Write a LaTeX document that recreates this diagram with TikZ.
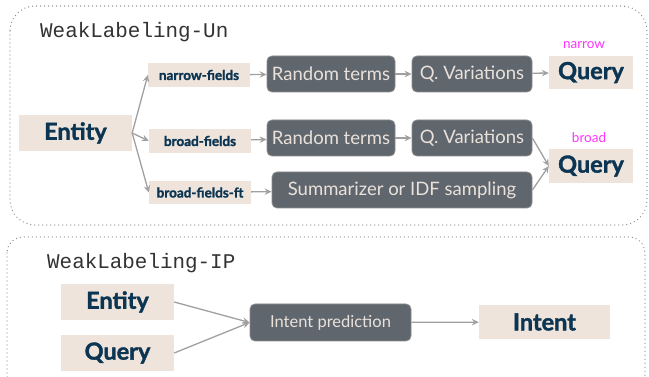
\documentclass[tikz,border=0pt]{standalone}
\usepackage{fontspec}
\setmainfont{Lato}
\newfontfamily\monofnt{Liberation Mono}
\newfontfamily\heavyfnt[FakeBold=1.6]{Lato}
\usetikzlibrary{arrows.meta}
\definecolor{beigeC}{HTML}{EEE4DB}
\definecolor{navyC}{HTML}{0B3552}
\definecolor{procC}{HTML}{60666E}
\definecolor{procB}{HTML}{8C8C8C}
\definecolor{procT}{HTML}{EAE2DA}
\definecolor{arrC}{HTML}{A0A0A0}
\definecolor{dotC}{HTML}{888888}
\definecolor{magC}{HTML}{FF33FF}
\tikzset{
  big/.style={fill=beigeC, text=navyC, inner sep=0pt, font=\heavyfnt\bfseries\fontsize{23.5}{28}\selectfont},
  fld/.style={fill=beigeC, text=navyC, inner sep=0pt, font=\heavyfnt\bfseries\fontsize{13.5}{16}\selectfont},
  proc/.style={fill=procC, draw=procB, line width=0.8pt, rounded corners=5pt, text=procT, inner sep=0pt, minimum height=36pt, font=\fontsize{18.5}{22}\selectfont},
  conn/.style={draw=arrC, line width=1.3pt, -{Stealth[length=7pt,width=6.5pt,inset=2.5pt]}},
  frame/.style={draw=dotC, line width=1.3pt, dash pattern=on 0pt off 4pt, line cap=round},
  ttl/.style={anchor=west, inner sep=0pt, text=black!80, font=\monofnt\fontsize{20.9}{24}\selectfont},
  mag/.style={text=magC, inner sep=0pt, font=\fontsize{13.5}{16}\selectfont}
}
\begin{document}
\begin{tikzpicture}[x=1pt,y=-1pt]
\useasboundingbox (0,0) rectangle (649,377);
\draw[frame, rounded corners=25pt] (10,6) rectangle (647,225);
\draw[frame, rounded corners=16pt] (7,237) rectangle (645,390);
\node[ttl] (t1) at (40,32) {WeakLabeling-Un};
\node[ttl] (t2) at (47,263) {WeakLabeling-IP};
% top part
\node[big, minimum width=113pt, minimum height=36pt] (entA) at (75.5,133) {Entity};
\node[fld, minimum width=102pt, minimum height=24pt] (nf) at (199,75) {narrow-fields};
\node[fld, minimum width=102pt, minimum height=24pt] (bf) at (200,141) {broad-fields};
\node[fld, minimum width=102pt, minimum height=23pt] (bft) at (200,192.5) {broad-fields-ft};
\node[proc, minimum width=128pt] (rt1) at (331,74) {Random terms};
\node[proc, minimum width=128pt] (rt2) at (331,138) {Random terms};
\node[proc, minimum width=260pt] (summ) at (402,190) {Summarizer or IDF sampling};
\node[proc, minimum width=120pt] (qv1) at (472,74) {Q. Variations};
\node[proc, minimum width=120pt] (qv2) at (472,138) {Q. Variations};
\node[big, minimum width=84pt, minimum height=33pt] (qn) at (591,72.5) {Query};
\node[big, minimum width=84pt, minimum height=34pt] (qb) at (591,166) {Query};
\node[mag] (ln) at (584,45) {narrow};
\node[mag] (lb) at (589,138) {broad};
\draw[conn] (entA.east) -- (nf.west);
\draw[conn] (entA.east) -- (bf.west);
\draw[conn] (entA.east) -- (bft.west);
\draw[conn] (nf) -- (rt1);
\draw[conn] (bf) -- (rt2);
\draw[conn] (bft) -- (summ);
\draw[conn] (rt1) -- (qv1);
\draw[conn] (rt2) -- (qv2);
\draw[conn] (qv1) -- (qn);
\draw[conn] (qv2.east) -- (qb.west);
\draw[conn] (summ.east) -- (qb.west);
% bottom part
\node[big, minimum width=113pt, minimum height=36pt] (entB) at (117.5,302) {Entity};
\node[big, minimum width=113pt, minimum height=36pt] (qB) at (117.5,353) {Query};
\node[proc, minimum width=161pt, minimum height=37pt, font=\fontsize{16.5}{20}\selectfont] (ip) at (330.5,322.5) {Intent prediction};
\node[big, minimum width=131pt, minimum height=34pt] (intent) at (544.5,322) {Intent};
\draw[conn] (entB.east) -- (ip.west);
\draw[conn] (qB.east) -- (ip.west);
\draw[conn] (ip) -- (intent);
\end{tikzpicture}
\end{document}
